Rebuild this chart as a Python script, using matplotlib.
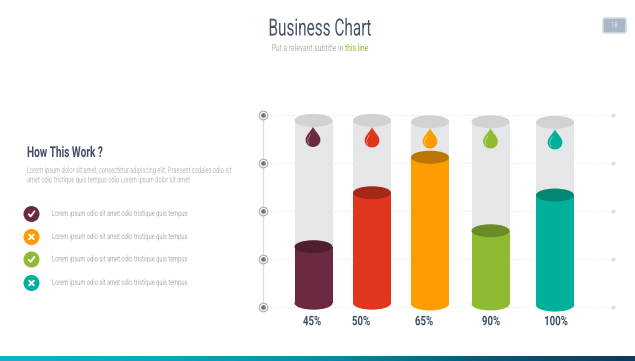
import matplotlib
matplotlib.use("Agg")
import matplotlib.pyplot as plt
from matplotlib.patches import Ellipse, PathPatch, Circle, FancyBboxPatch
from matplotlib.patheffects import AbstractPathEffect
from matplotlib.path import Path
from matplotlib.transforms import Affine2D
from matplotlib.colors import LinearSegmentedColormap
import numpy as np

FONT = 'Roboto'

# ---- data
labels = ['45%', '50%', '65%', '90%', '100%']
positions = [313.5, 372, 430, 490.5, 555]
label_x = [312, 361, 424, 491, 556]
fill_levels = [31.4, 59.5, 78.0, 39.7, 58.3]
tube_tops = [97.2, 97.2, 96.5, 96.5, 96.2]
bases = [2.0, 2.0, 1.6, 1.6, 1.0]
body_colors = ['#6b2942', '#e0361e', '#fd9c00', '#8fbb33', '#00b09b']
top_colors = ['#4f1f31', '#a72815', '#bb7700', '#6b8c25', '#008775']
grid_values = [0, 25, 50, 75, 100]
legend_text = 'Lorem ipsum odio sit amet odio tristique quis tempus'
legend_colors = ['#6b2942', '#fd9c00', '#8fbb33', '#00b09b']
legend_marks = ['check', 'cross', 'check', 'cross']
legend_y = [214, 237, 259.5, 283]

W, H = 635, 361
fig = plt.figure(figsize=(W / 100, H / 100), dpi=100, facecolor='white')


class Condense(AbstractPathEffect):
    """Narrow a text horizontally around its anchor (no condensed face is installed)."""
    def __init__(self, anchor_px, sx):
        super().__init__()
        self.a = anchor_px
        self.sx = sx

    def draw_path(self, renderer, gc, tpath, affine, rgbFace=None):
        t = affine + Affine2D().translate(-self.a, 0).scale(self.sx, 1).translate(self.a, 0)
        renderer.draw_path(gc, tpath, t, rgbFace)


def ctext(axis, x, y, s, sx, **kw):
    return axis.text(x, y, s, va='center', family=FONT, path_effects=[Condense(x, sx)], **kw)


# canvas in pixel coordinates for page furniture
cv = fig.add_axes([0, 0, 1, 1], zorder=1)
cv.set_xlim(0, W); cv.set_ylim(H, 0); cv.axis('off')

# value axes
x0, x1, ytop, ybot = 263, 613, 115, 307
ax = fig.add_axes([x0 / W, 1 - ybot / H, (x1 - x0) / W, (ybot - ytop) / H], zorder=2)
ax.set_xlim(x0, x1); ax.set_ylim(0, 100); ax.axis('off')
vscale = 100 / (ybot - ytop)
BW, EH = 38, 13 * vscale

for v in grid_values:
    ax.plot([x0, x1], [v, v], color='#e6e6e6', lw=0.7, ls=(0, (1.5, 2)), zorder=1, clip_on=False)
    ax.plot([x1], [v], 'o', ms=2.9, color='#dddddd', mec='none', zorder=2, clip_on=False)
ax.plot([x0, x0], [0, 100], color='#dcdcdc', lw=0.9, zorder=2, clip_on=False)
for v in grid_values:
    ax.plot([x0], [v], 'o', ms=6.2, mfc='white', mec='#a8a8a8', mew=0.8, zorder=3, clip_on=False)
    ax.plot([x0], [v], 'o', ms=3.4, color='#767676', mec='none', zorder=4, clip_on=False)

for i, x in enumerate(positions):
    ax.bar(x, tube_tops[i] - bases[i], bottom=bases[i], width=BW, color='#e5e6e8', zorder=5, clip_on=False)
    ax.add_patch(Ellipse((x, tube_tops[i]), BW, EH, color='#d0d2d3', lw=0, zorder=6, clip_on=False))
    ax.add_patch(Ellipse((x, bases[i]), BW, EH, color=body_colors[i], lw=0, zorder=7, clip_on=False))
    ax.bar(x, fill_levels[i] - bases[i], bottom=bases[i], width=BW, color=body_colors[i], zorder=7, clip_on=False)
    ax.add_patch(Ellipse((x, fill_levels[i]), BW, EH, color=top_colors[i], lw=0, zorder=8, clip_on=False))
    ctext(cv, label_x[i], 321.7, labels[i], 0.74, ha='center', fontsize=9.4, fontweight='bold', color='#3f4d66')

# droplets on a top layer
top = fig.add_axes([0, 0, 1, 1], zorder=3)
top.set_xlim(0, W); top.set_ylim(H, 0); top.axis('off'); top.patch.set_alpha(0)


def drop(x, y0, c):
    h, r = 20.5, 7.4
    cy = y0 + h - r
    verts = [(x, y0), (x + 0.8, y0 + 3.5), (x + r, cy - 4.5), (x + r, cy),
             (x + r, cy + r * 1.33), (x - r, cy + r * 1.33), (x - r, cy),
             (x - r, cy - 4.5), (x - 0.8, y0 + 3.5), (x, y0), (x, y0)]
    codes = [Path.MOVETO] + [Path.CURVE4] * 9 + [Path.CLOSEPOLY]
    top.add_patch(PathPatch(Path(verts, codes), fc=c, ec='none'))
    top.plot([x - 4.6, x - 5.4, x - 2.8], [cy + 4.5, cy, cy - 5], color='white', lw=0.4, alpha=0.65)


for x, y0, c in zip([313, 372, 430, 490.5, 555], [126.5, 127, 128, 128, 129], body_colors):
    drop(x, y0, c)

# header: the two subtitle parts are anchored at their shared joint
ctext(cv, 320, 29, 'Business Chart', 0.65, ha='center', fontsize=17, color='#46546c')
ctext(cv, 343.5, 48, 'Put a relevant subtitle in', 0.69, ha='right', fontsize=7, color='#b5b5b5')
ctext(cv, 345, 48, 'this line', 0.69, ha='left', fontsize=7, color='#8fbb33')

cv.add_patch(FancyBboxPatch((603, 18), 23, 15, boxstyle='round,pad=0,rounding_size=2', fc='#a9b5c9', ec='#d5dbe6', lw=1.2))
ctext(cv, 614.5, 25.5, '18', 0.7, ha='center', fontsize=6, color='#e4e8ef')

# left panel
ctext(cv, 27, 153, 'How This Work ?', 0.67, ha='left', fontsize=10.8, fontweight='bold', color='#3f4d66')
ctext(cv, 27, 170.5, 'Lorem ipsum dolor sit amet, consectetur adipiscing elit. Praesent sodales odio sit',
      0.627, ha='left', fontsize=6.5, color='#bdbdbd')
ctext(cv, 27, 180, 'amet odio tristique quis tempus odio Lorem ipsum dolor sit amet',
      0.627, ha='left', fontsize=6.5, color='#bdbdbd')
for y, c, m in zip(legend_y, legend_colors, legend_marks):
    cv.add_patch(Circle((31.5, y), 8, fc=c, ec='none'))
    if m == 'check':
        cv.plot([28.7, 30.6, 34.4], [y + 0.2, y + 2.4, y - 2.6], color='white', lw=1.3, solid_capstyle='round')
    else:
        cv.plot([29.2, 33.8], [y - 2.3, y + 2.3], color='white', lw=1.4, solid_capstyle='round')
        cv.plot([29.2, 33.8], [y + 2.3, y - 2.3], color='white', lw=1.4, solid_capstyle='round')
    ctext(cv, 52, y, legend_text, 0.685, ha='left', fontsize=6, color='#b0b0b0')

# footer gradient
cmap = LinearSegmentedColormap.from_list('foot', ['#0fb2c8', '#08a9bc', '#078fa8', '#0a5a7c', '#0b3a5e'])
cv.imshow(np.linspace(0, 1, 256)[None, :], extent=(0, W, H, 356), aspect='auto', cmap=cmap, zorder=5)
cv.set_xlim(0, W); cv.set_ylim(H, 0)

fig.savefig('out.png', dpi=100)
